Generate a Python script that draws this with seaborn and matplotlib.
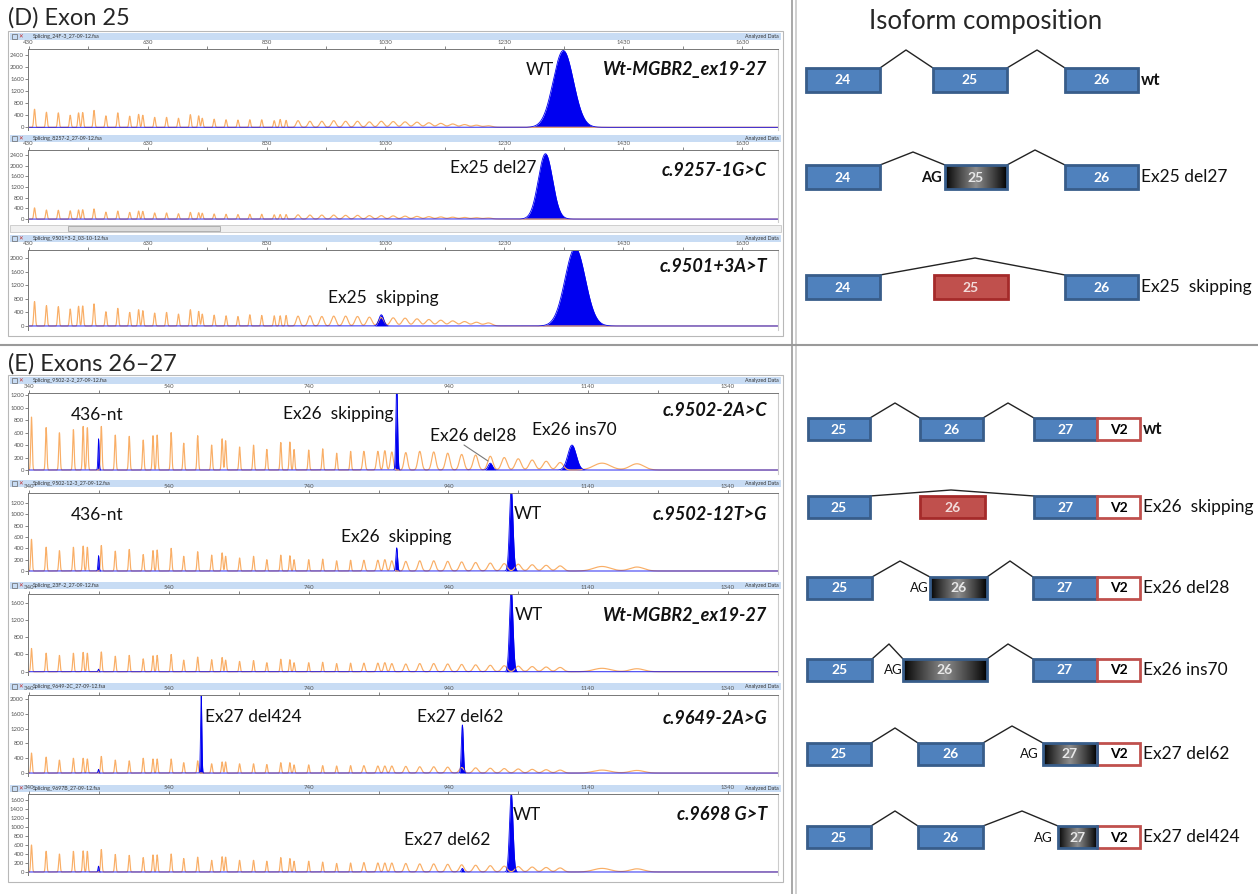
import numpy as np
import pandas as pd
import seaborn as sns
import matplotlib.pyplot as plt
from matplotlib.patches import Rectangle

sns.set_style("white")
plt.rcParams["font.family"] = ["Lato", "DejaVu Sans"]

W, H = 1258, 894

# ---- size-standard (orange) peaks, bp ----
d_ladder_pos = [440, 460, 480, 500, 514, 521, 540, 560, 580, 600, 615, 622, 642, 662, 682, 702, 716, 722,
                742, 762, 782, 802, 822, 843, 853, 863, 883, 903, 923, 943, 963, 983, 1003, 1023, 1043,
                1063, 1083, 1103, 1123, 1143, 1163, 1183, 1203]
d_ladder_w = [1.3] * 26 + [3.0, 3.2, 3.4, 3.6, 3.8, 4.0, 4.2, 4.4, 4.6, 4.8, 5.0, 5.2, 5.4, 5.6, 5.8, 6.0, 6.2]
d1_ladder_h = [600, 500, 480, 400, 480, 490, 560, 380, 480, 370, 430, 400, 330, 330, 300, 420, 380, 300, 270,
               250, 240, 250, 250, 220, 260, 230, 220, 200, 200, 220, 200, 200, 180, 200, 190, 180, 170, 150,
               130, 110, 90, 70, 50]
d2_ladder_h = [420, 340, 330, 310, 340, 350, 380, 260, 300, 250, 300, 290, 230, 230, 200, 250, 240, 220, 190,
               180, 170, 180, 180, 160, 170, 170, 160, 150, 150, 150, 140, 140, 130, 130, 120, 110, 100, 90,
               80, 70, 60, 50, 40]
d3_ladder_h = [720, 600, 570, 500, 580, 590, 650, 420, 520, 400, 480, 450, 380, 400, 350, 480, 430, 350, 320,
               300, 280, 330, 310, 300, 300, 310, 290, 300, 280, 290, 290, 280, 260, 250, 240, 230, 210, 190,
               170, 150, 130, 110, 90]

e_ladder_pos = [343, 364, 383, 403, 417, 423, 443, 463, 483, 503, 517, 523, 543, 561, 581, 601, 616, 621, 641,
                661, 680, 700, 713, 719, 740, 760, 780, 800, 819, 839, 849, 859, 879, 899, 919, 939, 959, 979,
                1000, 1020, 1040, 1060, 1080, 1100, 1160, 1210]
e_ladder_w = [1.0] * 28 + [1.6, 1.8, 1.8, 2.0, 2.4, 2.6, 2.8, 3.0, 3.2, 3.4, 3.6, 3.8, 4.0, 4.2, 4.4, 4.6, 12, 10]
e1_ladder_h = [850, 680, 600, 650, 700, 680, 700, 560, 540, 480, 550, 560, 600, 430, 550, 400, 500, 470, 370,
               400, 330, 440, 450, 330, 320, 340, 270, 300, 300, 300, 310, 290, 280, 300, 290, 270, 250, 240,
               220, 200, 180, 160, 140, 120, 110, 100]
e2_ladder_h = [560, 420, 360, 420, 440, 420, 450, 350, 380, 290, 360, 370, 400, 260, 340, 280, 320, 260, 230,
               260, 200, 280, 270, 200, 200, 210, 180, 190, 190, 190, 200, 180, 170, 180, 180, 170, 160, 150,
               140, 130, 120, 110, 100, 90, 80, 70]
e3_ladder_h = [540, 430, 380, 430, 450, 430, 460, 360, 380, 300, 370, 380, 400, 270, 340, 280, 330, 270, 240,
               260, 210, 290, 280, 210, 210, 220, 190, 200, 200, 200, 210, 190, 180, 190, 190, 180, 170, 160,
               150, 140, 130, 120, 110, 100, 80, 70]
e4_ladder_h = [540, 430, 350, 400, 400, 380, 450, 350, 330, 400, 380, 380, 380, 280, 330, 250, 300, 300, 250,
               250, 230, 280, 280, 220, 220, 200, 190, 200, 200, 190, 190, 190, 180, 170, 170, 160, 150, 140,
               130, 120, 110, 100, 90, 80, 80, 70]
e5_ladder_h = [600, 460, 400, 460, 470, 460, 500, 390, 370, 320, 380, 380, 400, 300, 330, 260, 340, 330, 260,
               260, 240, 320, 300, 240, 240, 220, 190, 200, 210, 200, 200, 200, 190, 180, 180, 170, 160, 150,
               140, 130, 120, 110, 100, 90, 80, 70]

# ---- sample (blue) peaks ----
blue_panel = ["D1", "D2", "D3", "D3", "E1", "E1", "E1", "E1", "E2", "E2", "E2", "E3", "E3",
              "E4", "E4", "E4", "E5", "E5", "E5"]
blue_pos = [1329, 1299, 1349, 1023, 439, 866, 1000, 1117, 439, 866, 1030, 439, 1030,
            439, 586, 960, 439, 960, 1030]
blue_h = [2550, 2450, 2300, 330, 500, 1400, 110, 400, 270, 410, 1450, 60, 1900,
          100, 2100, 1300, 130, 80, 1750]
blue_w = [17, 12, 17, 4, 0.8, 1.2, 3, 6, 0.8, 1.2, 2.5, 0.8, 2.5,
          0.8, 0.9, 1.4, 0.8, 1.4, 2.5]
blue = pd.DataFrame({"panel": blue_panel, "pos": blue_pos, "h": blue_h, "w": blue_w})

d_xticks = [430, 630, 830, 1030, 1230, 1430, 1630]
e_xticks = [340, 540, 740, 940, 1140, 1340]

fig = plt.figure(figsize=(W / 100, H / 100), dpi=100)


def px_axes(x0, y0, x1, y1):
    return fig.add_axes([x0 / W, 1 - y1 / H, (x1 - x0) / W, (y1 - y0) / H])


def peaks(x, pos, h, w):
    y = np.zeros_like(x)
    for p, hh, ww in zip(pos, h, w):
        y += hh * np.exp(-0.5 * ((x - p) / ww) ** 2)
    return y


def trace_panel(key, fname, hdr, top, bot, xlim, xticks, ylim, ystep, lad_pos, lad_h, lad_w):
    hax = px_axes(10, hdr, 781, hdr + 7)
    hax.set_facecolor("#c8dcf4")
    hax.set_xticks([])
    hax.set_yticks([])
    for s in hax.spines.values():
        s.set_visible(False)
    hax.text(0.03, 0.5, fname, fontsize=3.8, va="center", color="#333")
    hax.text(0.997, 0.5, "Analyzed Data", fontsize=3.8, va="center", ha="right", color="#333")

    ax = px_axes(28, top, 778, bot)
    x = np.linspace(xlim[0], xlim[1], 5000)
    y_or = peaks(x, lad_pos, lad_h, lad_w)
    b = blue[blue.panel == key]
    y_bl = peaks(x, b.pos, b.h, b.w)
    sns.lineplot(x=x, y=y_or, ax=ax, color="#f9ae66", linewidth=0.85, estimator=None, sort=False)
    ax.fill_between(x, y_bl, color="#0000f0", linewidth=0)
    sns.lineplot(x=x, y=y_bl, ax=ax, color="#0000f0", linewidth=0.6, estimator=None, sort=False)
    ax.xaxis.set_ticks_position("top")
    ax.set_xticks(xticks)
    ax.set_xticks([t + 100 for t in xticks if t + 100 < xlim[1]], minor=True)
    ax.set_yticks(np.arange(0, ylim[1], ystep))
    ax.set_xlim(*xlim)
    ax.set_ylim(*ylim)
    ax.tick_params(axis="both", which="both", labelsize=4.3, length=2, width=0.5, pad=1,
                   colors="#555", top=True, left=True)
    ax.set_xlabel("")
    ax.set_ylabel("")
    for side in ["left", "top"]:
        ax.spines[side].set_color("#777")
        ax.spines[side].set_linewidth(0.7)
    ax.spines["right"].set_color("#ccc")
    ax.spines["bottom"].set_visible(False)
    return ax


trace_panel("D1", "Splicing_24F-3_27-09-12.fsa", 33, 49, 130, (429, 1690), d_xticks, (-90, 2600), 400,
            d_ladder_pos, d1_ladder_h, d_ladder_w)
trace_panel("D2", "Splicing_8257-2_27-09-12.fsa", 135, 150, 222, (429, 1690), d_xticks, (-110, 2590), 400,
            d_ladder_pos, d2_ladder_h, d_ladder_w)
trace_panel("D3", "Splicing_9501+3-2_03-10-12.fsa", 235, 250, 330, (429, 1690), d_xticks, (-118, 2235), 400,
            d_ladder_pos, d3_ladder_h, d_ladder_w)
trace_panel("E1", "Splicing_9502-2-2_27-09-12.fsa", 377, 393, 474, (338, 1412), e_xticks, (-64, 1235), 200,
            e_ladder_pos, e1_ladder_h, e_ladder_w)
trace_panel("E2", "Splicing_9502-12-3_27-09-12.fsa", 480, 493, 574, (338, 1412), e_xticks, (-53, 1376), 200,
            e_ladder_pos, e2_ladder_h, e_ladder_w)
trace_panel("E3", "Splicing_23F-2_27-09-12.fsa", 582, 594, 675, (338, 1412), e_xticks, (-75, 1800), 400,
            e_ladder_pos, e3_ladder_h, e_ladder_w)
trace_panel("E4", "Splicing_9649-2C_27-09-12.fsa", 683, 695, 776, (338, 1412), e_xticks, (-80, 2108), 400,
            e_ladder_pos, e4_ladder_h, e_ladder_w)
trace_panel("E5", "Splicing_9697B_27-09-12.fsa", 785, 794, 875, (338, 1412), e_xticks, (-67, 1733), 200,
            e_ladder_pos, e5_ladder_h, e_ladder_w)

# ---- overlay: frames, dividers, labels, isoform diagrams (pixel units) ----
ov = px_axes(0, 0, W, H)
ov.set_xlim(0, W)
ov.set_ylim(H, 0)
ov.set_axis_off()

for y0, y1 in [(31, 336), (375, 882)]:
    ov.add_patch(Rectangle((8, y0), 775, y1 - y0, fill=False, ec="#b8b8b8", lw=0.8))
for hdr in [33, 135, 235, 377, 480, 582, 683, 785]:
    ov.add_patch(Rectangle((12, hdr + 1), 5, 5, fill=False, ec="#666", lw=0.5))
    ov.text(21, hdr + 3.5, "✕", fontsize=4, color="#c03030", ha="center", va="center")
# scrollbar under D2
ov.add_patch(Rectangle((10, 225), 771, 7, fc="#f0f0f0", ec="#c8c8c8", lw=0.6))
ov.add_patch(Rectangle((68, 226), 152, 5, fc="#dcdcdc", ec="#a8a8a8", lw=0.6))

ov.plot([792, 792], [0, H], color="#9a9a9a", lw=1.2)
ov.plot([796, 796], [0, H], color="#c8c8c8", lw=1.2)
ov.plot([0, W], [345, 345], color="#9a9a9a", lw=1.5)

ov.text(8, 18, "(D) Exon 25", fontsize=17, va="center", ha="left")
ov.text(8, 364, "(E) Exons 26–27", fontsize=17, va="center", ha="left")
ov.text(986, 22, "Isoform composition", fontsize=18.5, va="center", ha="center")

lab = dict(fontsize=12.5, va="center", color="#111")
bi = dict(fontsize=13, va="center", ha="right", fontweight="bold", fontstyle="italic", color="#111")
ov.text(540, 70, "WT", ha="center", **lab)
ov.text(767, 70, "Wt-MGBR2_ex19-27", **bi)
ov.text(493, 168, "Ex25 del27", ha="center", **lab)
ov.text(767, 170, "c.9257-1G>C", **bi)
ov.text(383, 298, "Ex25  skipping", ha="center", **lab)
ov.text(767, 266, "c.9501+3A>T", **bi)
ov.text(97, 415, "436-nt", ha="center", **lab)
ov.text(338, 414, "Ex26  skipping", ha="center", **lab)
ov.text(473, 436, "Ex26 del28", ha="center", **lab)
ov.plot([464, 488], [445, 461], color="#777", lw=0.8)
ov.text(574, 430, "Ex26 ins70", ha="center", **lab)
ov.text(767, 411, "c.9502-2A>C", **bi)
ov.text(97, 515, "436-nt", ha="center", **lab)
ov.text(396, 537, "Ex26  skipping", ha="center", **lab)
ov.text(528, 514, "WT", ha="center", **lab)
ov.text(767, 514, "c.9502-12T>G", **bi)
ov.text(529, 615, "WT", ha="center", **lab)
ov.text(767, 615, "Wt-MGBR2_ex19-27", **bi)
ov.text(205, 717, "Ex27 del424", ha="left", **lab)
ov.text(460, 717, "Ex27 del62", ha="center", **lab)
ov.text(767, 718, "c.9649-2A>G", **bi)
ov.text(527, 815, "WT", ha="center", **lab)
ov.text(447, 840, "Ex27 del62", ha="center", **lab)
ov.text(767, 815, "c.9698 G>T", **bi)

# isoform rows: exon boxes (label, x0, x1, kind) per row
iso_y = [80, 177, 287, 429, 507, 588, 670, 754, 837]
iso_half = [12, 12, 12, 11, 11, 11, 11, 11, 11]
iso_exons = [
    [("24", 806, 880, "b"), ("25", 933, 1007, "b"), ("26", 1065, 1138, "b")],
    [("24", 806, 880, "b"), ("25", 945, 1007, "g"), ("26", 1065, 1138, "b")],
    [("24", 806, 880, "b"), ("25", 934, 1008, "r"), ("26", 1065, 1138, "b")],
    [("25", 808, 870, "b"), ("26", 920, 983, "b"), ("27", 1034, 1097, "b"), ("V2", 1097, 1140, "v")],
    [("25", 808, 870, "b"), ("26", 920, 985, "r"), ("27", 1034, 1097, "b"), ("V2", 1097, 1140, "v")],
    [("25", 807, 872, "b"), ("26", 930, 987, "g"), ("27", 1033, 1097, "b"), ("V2", 1097, 1140, "v")],
    [("25", 807, 872, "b"), ("26", 903, 987, "g"), ("27", 1033, 1097, "b"), ("V2", 1097, 1140, "v")],
    [("25", 807, 871, "b"), ("26", 918, 983, "b"), ("27", 1043, 1097, "g"), ("V2", 1097, 1140, "v")],
    [("25", 807, 871, "b"), ("26", 918, 983, "b"), ("27", 1058, 1097, "g"), ("V2", 1097, 1140, "v")],
]
# intron lines: (x_start, x_apex, apex_y, x_end)
iso_introns = [
    [(880, 906, 50, 933), (1007, 1037, 50, 1065)],
    [(880, 913, 152, 945), (1007, 1035, 150, 1065)],
    [(880, 975, 258, 1065)],
    [(870, 895, 403, 920), (983, 1008, 403, 1034)],
    [(870, 951, 490, 1034)],
    [(872, 900, 561, 930), (987, 1010, 561, 1033)],
    [(872, 889, 644, 903), (987, 1008, 644, 1033)],
    [(871, 895, 728, 918), (983, 1012, 726, 1043)],
    [(871, 895, 811, 918), (983, 1022, 811, 1058)],
]
iso_ag_x = [None, 931, None, None, None, 919, 893, 1029, 1043]
iso_names = ["wt", "Ex25 del27", "Ex25  skipping", "wt", "Ex26  skipping", "Ex26 del28", "Ex26 ins70",
             "Ex27 del62", "Ex27 del424"]

grad = 0.55 * (1 - np.abs(np.linspace(-1, 1, 200))) ** 0.9
grad = grad[None, :]

for i, yc in enumerate(iso_y):
    hh = iso_half[i]
    top = yc - hh
    for x0, xa, ya, x1 in iso_introns[i]:
        ov.plot([x0, xa, x1], [top, ya, top], color="#222", lw=1.0, zorder=2)
    for name, x0, x1, kind in iso_exons[i]:
        if kind == "b":
            ov.add_patch(Rectangle((x0, top), x1 - x0, 2 * hh, fc="#4f81bd", ec="#385d8a", lw=2, zorder=3))
            col = "white"
        elif kind == "r":
            ov.add_patch(Rectangle((x0, top), x1 - x0, 2 * hh, fc="#c0504d", ec="#a52a2a", lw=2, zorder=3))
            col = "#f2dcdb"
        elif kind == "g":
            ov.imshow(grad, cmap="gray", vmin=0, vmax=1, extent=(x0, x1, yc + hh, top), aspect="auto", zorder=3)
            ov.add_patch(Rectangle((x0, top), x1 - x0, 2 * hh, fill=False, ec="#385d8a", lw=2, zorder=4))
            col = "#e8e8e8"
        else:
            ov.add_patch(Rectangle((x0, top), x1 - x0, 2 * hh, fc="white", ec="#c0504d", lw=2, zorder=3))
            col = "black"
        ov.text((x0 + x1) / 2, yc + 0.5, name, color=col, fontsize=10, fontweight="bold",
                ha="center", va="center", zorder=5)
    if iso_ag_x[i] is not None:
        ov.text(iso_ag_x[i], yc + 0.5, "AG", fontsize=10.5 if i == 1 else 9.5,
                fontweight="bold" if i == 1 else "normal", ha="center", va="center", color="#111")
    xe = max(e[2] for e in iso_exons[i]) + 3
    if iso_names[i] == "wt":
        ov.text(xe, yc, "wt", fontsize=12, fontweight="bold", va="center", ha="left", color="#111")
    else:
        ov.text(xe, yc, iso_names[i], fontsize=12.5, va="center", ha="left", color="#111")

ov.set_xlim(0, W)
ov.set_ylim(H, 0)

fig.savefig("out.png", dpi=100)
